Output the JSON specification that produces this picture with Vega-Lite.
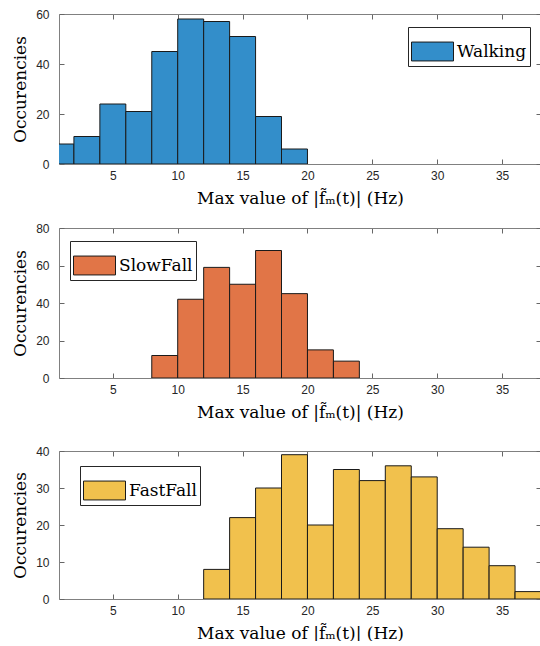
{
  "$schema": "https://vega.github.io/schema/vega-lite/v6.json",
  "padding": {"left": 11, "top": 8, "right": 0, "bottom": 0},
  "background": "white",
  "config": {
    "view": {"stroke": null},
    "axis": {
      "labelFont": "Liberation Sans", "labelFontSize": 12, "labelColor": "#262626",
      "titleFont": "DejaVu Serif", "titleFontSize": 17, "titleColor": "#000", "titleFontWeight": "normal",
      "domainColor": "#808080", "domainWidth": 1, "tickColor": "#666", "tickSize": -5, "grid": false
    },
    "legend": {
      "orient": "none", "title": null, "strokeColor": "#262626", "fillColor": "white", "padding": 3,
      "labelFont": "DejaVu Serif", "labelFontSize": 17, "labelColor": "#000", "labelOffset": 3, "labelLimit": 300,
      "symbolType": "M-1,-0.45L1,-0.45L1,0.45L-1,0.45Z", "symbolSize": 1764,
      "symbolStrokeColor": "#1a1a1a", "symbolStrokeWidth": 1, "symbolOpacity": 1, "cornerRadius": 0
    }
  },
  "datasets": {
    "walking": [
      {"series": "Walking", "start": 0, "end": 2, "count": 8},
      {"series": "Walking", "start": 2, "end": 4, "count": 11},
      {"series": "Walking", "start": 4, "end": 6, "count": 24},
      {"series": "Walking", "start": 6, "end": 8, "count": 21},
      {"series": "Walking", "start": 8, "end": 10, "count": 45},
      {"series": "Walking", "start": 10, "end": 12, "count": 58},
      {"series": "Walking", "start": 12, "end": 14, "count": 57},
      {"series": "Walking", "start": 14, "end": 16, "count": 51},
      {"series": "Walking", "start": 16, "end": 18, "count": 19},
      {"series": "Walking", "start": 18, "end": 20, "count": 6}
    ],
    "slowfall": [
      {"series": "SlowFall", "start": 8, "end": 10, "count": 12},
      {"series": "SlowFall", "start": 10, "end": 12, "count": 42},
      {"series": "SlowFall", "start": 12, "end": 14, "count": 59},
      {"series": "SlowFall", "start": 14, "end": 16, "count": 50},
      {"series": "SlowFall", "start": 16, "end": 18, "count": 68},
      {"series": "SlowFall", "start": 18, "end": 20, "count": 45},
      {"series": "SlowFall", "start": 20, "end": 22, "count": 15},
      {"series": "SlowFall", "start": 22, "end": 24, "count": 9}
    ],
    "fastfall": [
      {"series": "FastFall", "start": 12, "end": 14, "count": 8},
      {"series": "FastFall", "start": 14, "end": 16, "count": 22},
      {"series": "FastFall", "start": 16, "end": 18, "count": 30},
      {"series": "FastFall", "start": 18, "end": 20, "count": 39},
      {"series": "FastFall", "start": 20, "end": 22, "count": 20},
      {"series": "FastFall", "start": 22, "end": 24, "count": 35},
      {"series": "FastFall", "start": 24, "end": 26, "count": 32},
      {"series": "FastFall", "start": 26, "end": 28, "count": 36},
      {"series": "FastFall", "start": 28, "end": 30, "count": 33},
      {"series": "FastFall", "start": 30, "end": 32, "count": 19},
      {"series": "FastFall", "start": 32, "end": 34, "count": 14},
      {"series": "FastFall", "start": 34, "end": 36, "count": 9},
      {"series": "FastFall", "start": 36, "end": 38, "count": 2}
    ]
  },
  "spacing": 25,
  "resolve": {"scale": {"color": "independent"}, "legend": {"color": "independent"}},
  "vconcat": [
    {
      "spacing": 16,
      "resolve": {"scale": {"color": "independent"}, "legend": {"color": "independent"}},
      "vconcat": [
        {
          "width": 482, "height": 150,
          "data": {"name": "walking"},
          "layer": [
            {
              "mark": {"type": "bar", "stroke": "#1a1a1a", "strokeWidth": 1, "clip": true},
              "encoding": {
                "x": {"field": "start", "type": "quantitative", "scale": {"domain": [0.85, 38], "nice": false, "zero": false},
                      "axis": {"orient": "bottom", "values": [5, 10, 15, 20, 25, 30, 35], "title": "Max value of |f\u0303\u2098(t)| (Hz)", "labelPadding": 11, "titlePadding": 9}},
                "x2": {"field": "end"},
                "y": {"field": "count", "type": "quantitative", "scale": {"domain": [0, 60], "nice": false},
                      "axis": {"orient": "left", "values": [0, 20, 40, 60], "title": "Occurencies", "labelPadding": 15, "titlePadding": 6}},
                "y2": {"datum": 0},
                "color": {"field": "series", "type": "nominal", "scale": {"range": ["#338ECA"]},
                          "legend": {"legendX": 349, "legendY": 13, "labelFont": "DejaVu Serif", "labelFontSize": 17}}
              }
            },
            {
              "mark": {"type": "point", "opacity": 0, "clip": true},
              "encoding": {
                "x": {"field": "start", "type": "quantitative", "scale": {"domain": [0.85, 38], "nice": false, "zero": false},
                      "axis": {"orient": "top", "values": [5, 10, 15, 20, 25, 30, 35], "labels": false, "title": null}},
                "y": {"field": "count", "type": "quantitative", "scale": {"domain": [0, 60], "nice": false},
                      "axis": {"orient": "right", "values": [0, 20, 40, 60], "labels": false, "title": null}}
              }
            }
          ]
        },
        {
          "width": 482, "height": 150,
          "data": {"name": "slowfall"},
          "layer": [
            {
              "mark": {"type": "bar", "stroke": "#1a1a1a", "strokeWidth": 1, "clip": true},
              "encoding": {
                "x": {"field": "start", "type": "quantitative", "scale": {"domain": [0.85, 38], "nice": false, "zero": false},
                      "axis": {"orient": "bottom", "values": [5, 10, 15, 20, 25, 30, 35], "title": "Max value of |f\u0303\u2098(t)| (Hz)", "labelPadding": 11, "titlePadding": 9}},
                "x2": {"field": "end"},
                "y": {"field": "count", "type": "quantitative", "scale": {"domain": [0, 80], "nice": false},
                      "axis": {"orient": "left", "values": [0, 20, 40, 60, 80], "title": "Occurencies", "labelPadding": 15, "titlePadding": 6}},
                "y2": {"datum": 0},
                "color": {"field": "series", "type": "nominal", "scale": {"range": ["#E17547"]},
                          "legend": {"legendX": 11, "legendY": 13, "labelFont": "DejaVu Serif", "labelFontSize": 17}}
              }
            },
            {
              "mark": {"type": "point", "opacity": 0, "clip": true},
              "encoding": {
                "x": {"field": "start", "type": "quantitative", "scale": {"domain": [0.85, 38], "nice": false, "zero": false},
                      "axis": {"orient": "top", "values": [5, 10, 15, 20, 25, 30, 35], "labels": false, "title": null}},
                "y": {"field": "count", "type": "quantitative", "scale": {"domain": [0, 80], "nice": false},
                      "axis": {"orient": "right", "values": [0, 20, 40, 60, 80], "labels": false, "title": null}}
              }
            }
          ]
        }
      ]
    },
    {
      "width": 482, "height": 148,
      "data": {"name": "fastfall"},
      "layer": [
        {
          "mark": {"type": "bar", "stroke": "#1a1a1a", "strokeWidth": 1, "clip": true},
          "encoding": {
            "x": {"field": "start", "type": "quantitative", "scale": {"domain": [0.85, 38], "nice": false, "zero": false},
                  "axis": {"orient": "bottom", "values": [5, 10, 15, 20, 25, 30, 35], "title": "Max value of |f\u0303\u2098(t)| (Hz)", "labelPadding": 11, "titlePadding": 9}},
            "x2": {"field": "end"},
            "y": {"field": "count", "type": "quantitative", "scale": {"domain": [0, 40], "nice": false},
                  "axis": {"orient": "left", "values": [0, 10, 20, 30, 40], "title": "Occurencies", "labelPadding": 15, "titlePadding": 6}},
            "y2": {"datum": 0},
            "color": {"field": "series", "type": "nominal", "scale": {"range": ["#F1C14D"]},
                      "legend": {"legendX": 21, "legendY": 15, "labelFont": "DejaVu Serif", "labelFontSize": 17}}
          }
        },
        {
          "mark": {"type": "point", "opacity": 0, "clip": true},
          "encoding": {
            "x": {"field": "start", "type": "quantitative", "scale": {"domain": [0.85, 38], "nice": false, "zero": false},
                  "axis": {"orient": "top", "values": [5, 10, 15, 20, 25, 30, 35], "labels": false, "title": null}},
            "y": {"field": "count", "type": "quantitative", "scale": {"domain": [0, 40], "nice": false},
                  "axis": {"orient": "right", "values": [0, 10, 20, 30, 40], "labels": false, "title": null}}
          }
        }
      ]
    }
  ]
}
